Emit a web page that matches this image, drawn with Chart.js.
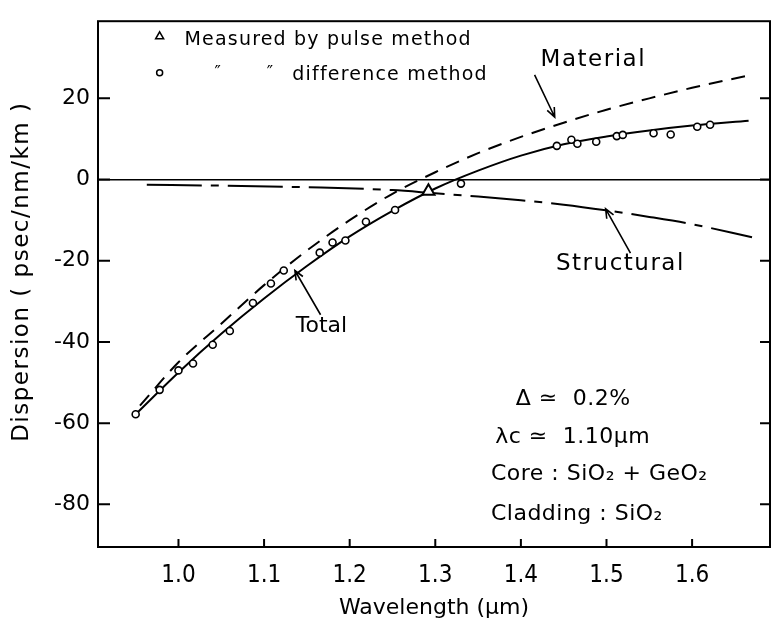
<!DOCTYPE html>
<html>
<head>
<meta charset="utf-8">
<script src="https://cdn.jsdelivr.net/npm/chart.js@4.4.1/dist/chart.umd.min.js"></script>
<style>
	html, body { margin: 0; padding: 0; background: #fff; }
	#caixa { width: 779px; height: 635px; }
</style>
</head>
<body>
<div id="caixa"><canvas id="grafico" width="779" height="635"></canvas></div>
<script>
// Comprimento de onda (um) e dispersão (ps/nm/km) de cada curva
const xTotal = [0.95, 1.0, 1.05, 1.1, 1.15, 1.2, 1.25, 1.3, 1.35, 1.4, 1.45, 1.5, 1.55, 1.6, 1.666];
const yTotal = [-57.8, -47.5, -38, -29.3, -21.3, -14, -7.7, -2.2, 2.2, 5.9, 8.7, 10.6, 12.1, 13.3, 14.5];

const xMaterial = [0.955, 1.0, 1.05, 1.1, 1.15, 1.2, 1.25, 1.3, 1.35, 1.4, 1.45, 1.5, 1.55, 1.6, 1.67];
const yMaterial = [-55.7, -45, -35.5, -26, -17.5, -10, -3.5, 1.8, 6.5, 10.5, 14, 17.2, 20, 22.6, 25.8];

const xEstrutural = [0.963, 1.05, 1.15, 1.25, 1.3, 1.35, 1.4, 1.45, 1.5, 1.55, 1.6, 1.67];
const yEstrutural = [-1.3, -1.5, -1.9, -2.6, -3.4, -4.2, -5.1, -6.2, -7.6, -9.2, -11, -14.2];

// Pontos medidos (método da diferença e método do pulso)
const xDiferenca = [0.95, 0.978, 1.0, 1.017, 1.04, 1.06, 1.087, 1.108, 1.123, 1.165, 1.18, 1.195, 1.219, 1.253, 1.33,
	1.442, 1.459, 1.466, 1.488, 1.512, 1.519, 1.555, 1.575, 1.606, 1.621];
const yDiferenca = [-57.8, -51.8, -47, -45.3, -40.7, -37.3, -30.4, -25.6, -22.4, -18, -15.5, -15, -10.4, -7.5, -1,
	8.3, 9.8, 8.8, 9.3, 10.7, 11, 11.4, 11.1, 13, 13.5];
const xPulso = [1.292];
const yPulso = [-2.9];

const xTicks = [1.0, 1.1, 1.2, 1.3, 1.4, 1.5, 1.6];
const yTicks = [-80, -60, -40, -20, 0, 20];

const FONTE = '"DejaVu Sans", sans-serif';
const FONTE_ESTREITA = '"DejaVu Sans Condensed", "Liberation Sans Narrow", "DejaVu Sans", sans-serif';

function pares(xs, ys) {
	return xs.map((v, i) => ({ x: v, y: ys[i] }));
}

// Seta com ponta aberta, coordenadas em unidades dos eixos
function seta(ctx, x, y, x0, y0, x1, y1) {
	const ax = x.getPixelForValue(x0), ay = y.getPixelForValue(y0);
	const bx = x.getPixelForValue(x1), by = y.getPixelForValue(y1);
	const ang = Math.atan2(by - ay, bx - ax);
	ctx.beginPath();
	ctx.moveTo(ax, ay);
	ctx.lineTo(bx, by);
	ctx.moveTo(bx - 10 * Math.cos(ang - 0.4), by - 10 * Math.sin(ang - 0.4));
	ctx.lineTo(bx, by);
	ctx.lineTo(bx - 10 * Math.cos(ang + 0.4), by - 10 * Math.sin(ang + 0.4));
	ctx.stroke();
}

function texto(ctx, x, y, s, vx, vy, fonte, espaco) {
	ctx.font = fonte;
	ctx.letterSpacing = espaco || "0px";
	ctx.fillText(s, x.getPixelForValue(vx), y.getPixelForValue(vy));
}

// Moldura, marcas internas, legenda e rótulos das curvas
const anotacoes = {
	id: "anotacoes",
	afterDraw(chart) {
		const { ctx, chartArea: a, scales: { x, y } } = chart;
		ctx.save();
		ctx.strokeStyle = "#000";
		ctx.fillStyle = "#000";
		ctx.lineWidth = 2;
		ctx.strokeRect(a.left, a.top, a.right - a.left, a.bottom - a.top);

		ctx.beginPath();
		yTicks.forEach((v) => {
			const py = y.getPixelForValue(v);
			ctx.moveTo(a.left, py);
			ctx.lineTo(a.left + 12, py);
			ctx.moveTo(a.right, py);
			ctx.lineTo(a.right - 10, py);
		});
		xTicks.forEach((v) => {
			const px = x.getPixelForValue(v);
			ctx.moveTo(px, a.bottom);
			ctx.lineTo(px, a.bottom - 8);
		});
		ctx.stroke();

		// título do eixo y, girado
		ctx.save();
		ctx.translate(22, y.getPixelForValue(-22.7));
		ctx.rotate(-Math.PI / 2);
		ctx.textAlign = "center";
		ctx.textBaseline = "middle";
		ctx.font = "23px " + FONTE;
		ctx.letterSpacing = "1.5px";
		ctx.fillText("Dispersion ( psec/nm/km )", 0, 0);
		ctx.restore();

		ctx.textBaseline = "middle";
		ctx.textAlign = "left";

		// legenda
		const tx = x.getPixelForValue(0.978), ty = y.getPixelForValue(35.4);
		ctx.lineWidth = 1.5;
		ctx.beginPath();
		ctx.moveTo(tx, ty - 4);
		ctx.lineTo(tx + 4, ty + 3);
		ctx.lineTo(tx - 4, ty + 3);
		ctx.closePath();
		ctx.stroke();
		ctx.beginPath();
		ctx.arc(tx, y.getPixelForValue(26.3), 3, 0, Math.PI * 2);
		ctx.stroke();
		texto(ctx, x, y, "Measured by pulse method", 1.007, 34.4, "19px " + FONTE, "1.2px");
		texto(ctx, x, y, "\u2033", 1.042, 26, "17px " + FONTE);
		texto(ctx, x, y, "\u2033", 1.103, 26, "17px " + FONTE);
		texto(ctx, x, y, "difference method", 1.133, 25.8, "19px " + FONTE, "1.2px");

		// rótulos das curvas
		ctx.lineWidth = 1.6;
		texto(ctx, x, y, "Material", 1.423, 29.4, "23px " + FONTE, "1.5px");
		seta(ctx, x, y, 1.416, 25.8, 1.4395, 15.4);
		texto(ctx, x, y, "Structural", 1.441, -20.7, "23px " + FONTE, "1.5px");
		seta(ctx, x, y, 1.528, -18.1, 1.499, -7.2);
		texto(ctx, x, y, "Total", 1.137, -36.1, "22px " + FONTE);
		seta(ctx, x, y, 1.166, -33.3, 1.136, -22.4);

		// parâmetros da fibra
		texto(ctx, x, y, "\u0394 \u2243  0.2%", 1.394, -54.2, "22px " + FONTE, "0.5px");
		texto(ctx, x, y, "\u03bbc \u2243  1.10\u03bcm", 1.37, -63.4, "22px " + FONTE, "0.5px");
		texto(ctx, x, y, "Core : SiO\u2082 + GeO\u2082", 1.365, -72.5, "22px " + FONTE, "0.5px");
		texto(ctx, x, y, "Cladding : SiO\u2082", 1.365, -82.4, "22px " + FONTE, "0.5px");
		ctx.restore();
	},
};

const ctx = document.getElementById("grafico").getContext("2d");
const grafico = new Chart(ctx, {
	type: "scatter",
	data: {
		datasets: [
			{
				label: "pulse method",
				data: pares(xPulso, yPulso),
				pointStyle: "triangle",
				pointRadius: 7,
				borderWidth: 2,
				borderColor: "#000",
				backgroundColor: "#fff",
			},
			{
				label: "difference method",
				data: pares(xDiferenca, yDiferenca),
				pointStyle: "circle",
				pointRadius: 3.5,
				borderWidth: 1.6,
				borderColor: "#000",
				backgroundColor: "#fff",
			},
			{
				label: "Total",
				data: pares(xTotal, yTotal),
				showLine: true,
				pointRadius: 0,
				borderColor: "#000",
				borderWidth: 2,
				cubicInterpolationMode: "monotone",
			},
			{
				label: "Material",
				data: pares(xMaterial, yMaterial),
				showLine: true,
				pointRadius: 0,
				borderColor: "#000",
				borderWidth: 2,
				borderDash: [14, 9],
				cubicInterpolationMode: "monotone",
			},
			{
				label: "Structural",
				data: pares(xEstrutural, yEstrutural),
				showLine: true,
				pointRadius: 0,
				borderColor: "#000",
				borderWidth: 2,
				borderDash: [55, 9, 8, 9],
				cubicInterpolationMode: "monotone",
			},
		],
	},
	options: {
		responsive: false,
		animation: false,
		layout: { padding: { top: 10, right: 5, left: 0, bottom: 0 } },
		plugins: {
			legend: { display: false },
			tooltip: { enabled: false },
		},
		scales: {
			x: {
				type: "linear",
				min: 0.906,
				max: 1.691,
				afterFit: (s) => { s.height = 88; },
				afterBuildTicks: (s) => { s.ticks = xTicks.map((v) => ({ value: v })); },
				grid: { display: false },
				border: { display: false },
				ticks: {
					color: "#000",
					padding: 6,
					maxRotation: 0,
					font: { family: FONTE_ESTREITA, size: 24 },
					callback: (v) => Number(v).toFixed(1),
				},
				title: {
					display: true,
					text: "Wavelength (\u03bcm)",
					color: "#000",
					font: { family: FONTE, size: 22 },
					padding: { top: 0, bottom: 14 },
				},
			},
			y: {
				type: "linear",
				min: -90.5,
				max: 39,
				afterFit: (s) => { s.width = 98; },
				afterBuildTicks: (s) => { s.ticks = yTicks.map((v) => ({ value: v })); },
				grid: {
					drawTicks: false,
					color: (c) => (c.tick && c.tick.value === 0 ? "#000" : "rgba(0,0,0,0)"),
					lineWidth: 1.6,
				},
				border: { display: false },
				ticks: {
					color: "#000",
					padding: 8,
					font: { family: FONTE, size: 22 },
					callback: (v) => String(v),
				},
			},
		},
	},
	plugins: [anotacoes],
});
</script>
</body>
</html>
